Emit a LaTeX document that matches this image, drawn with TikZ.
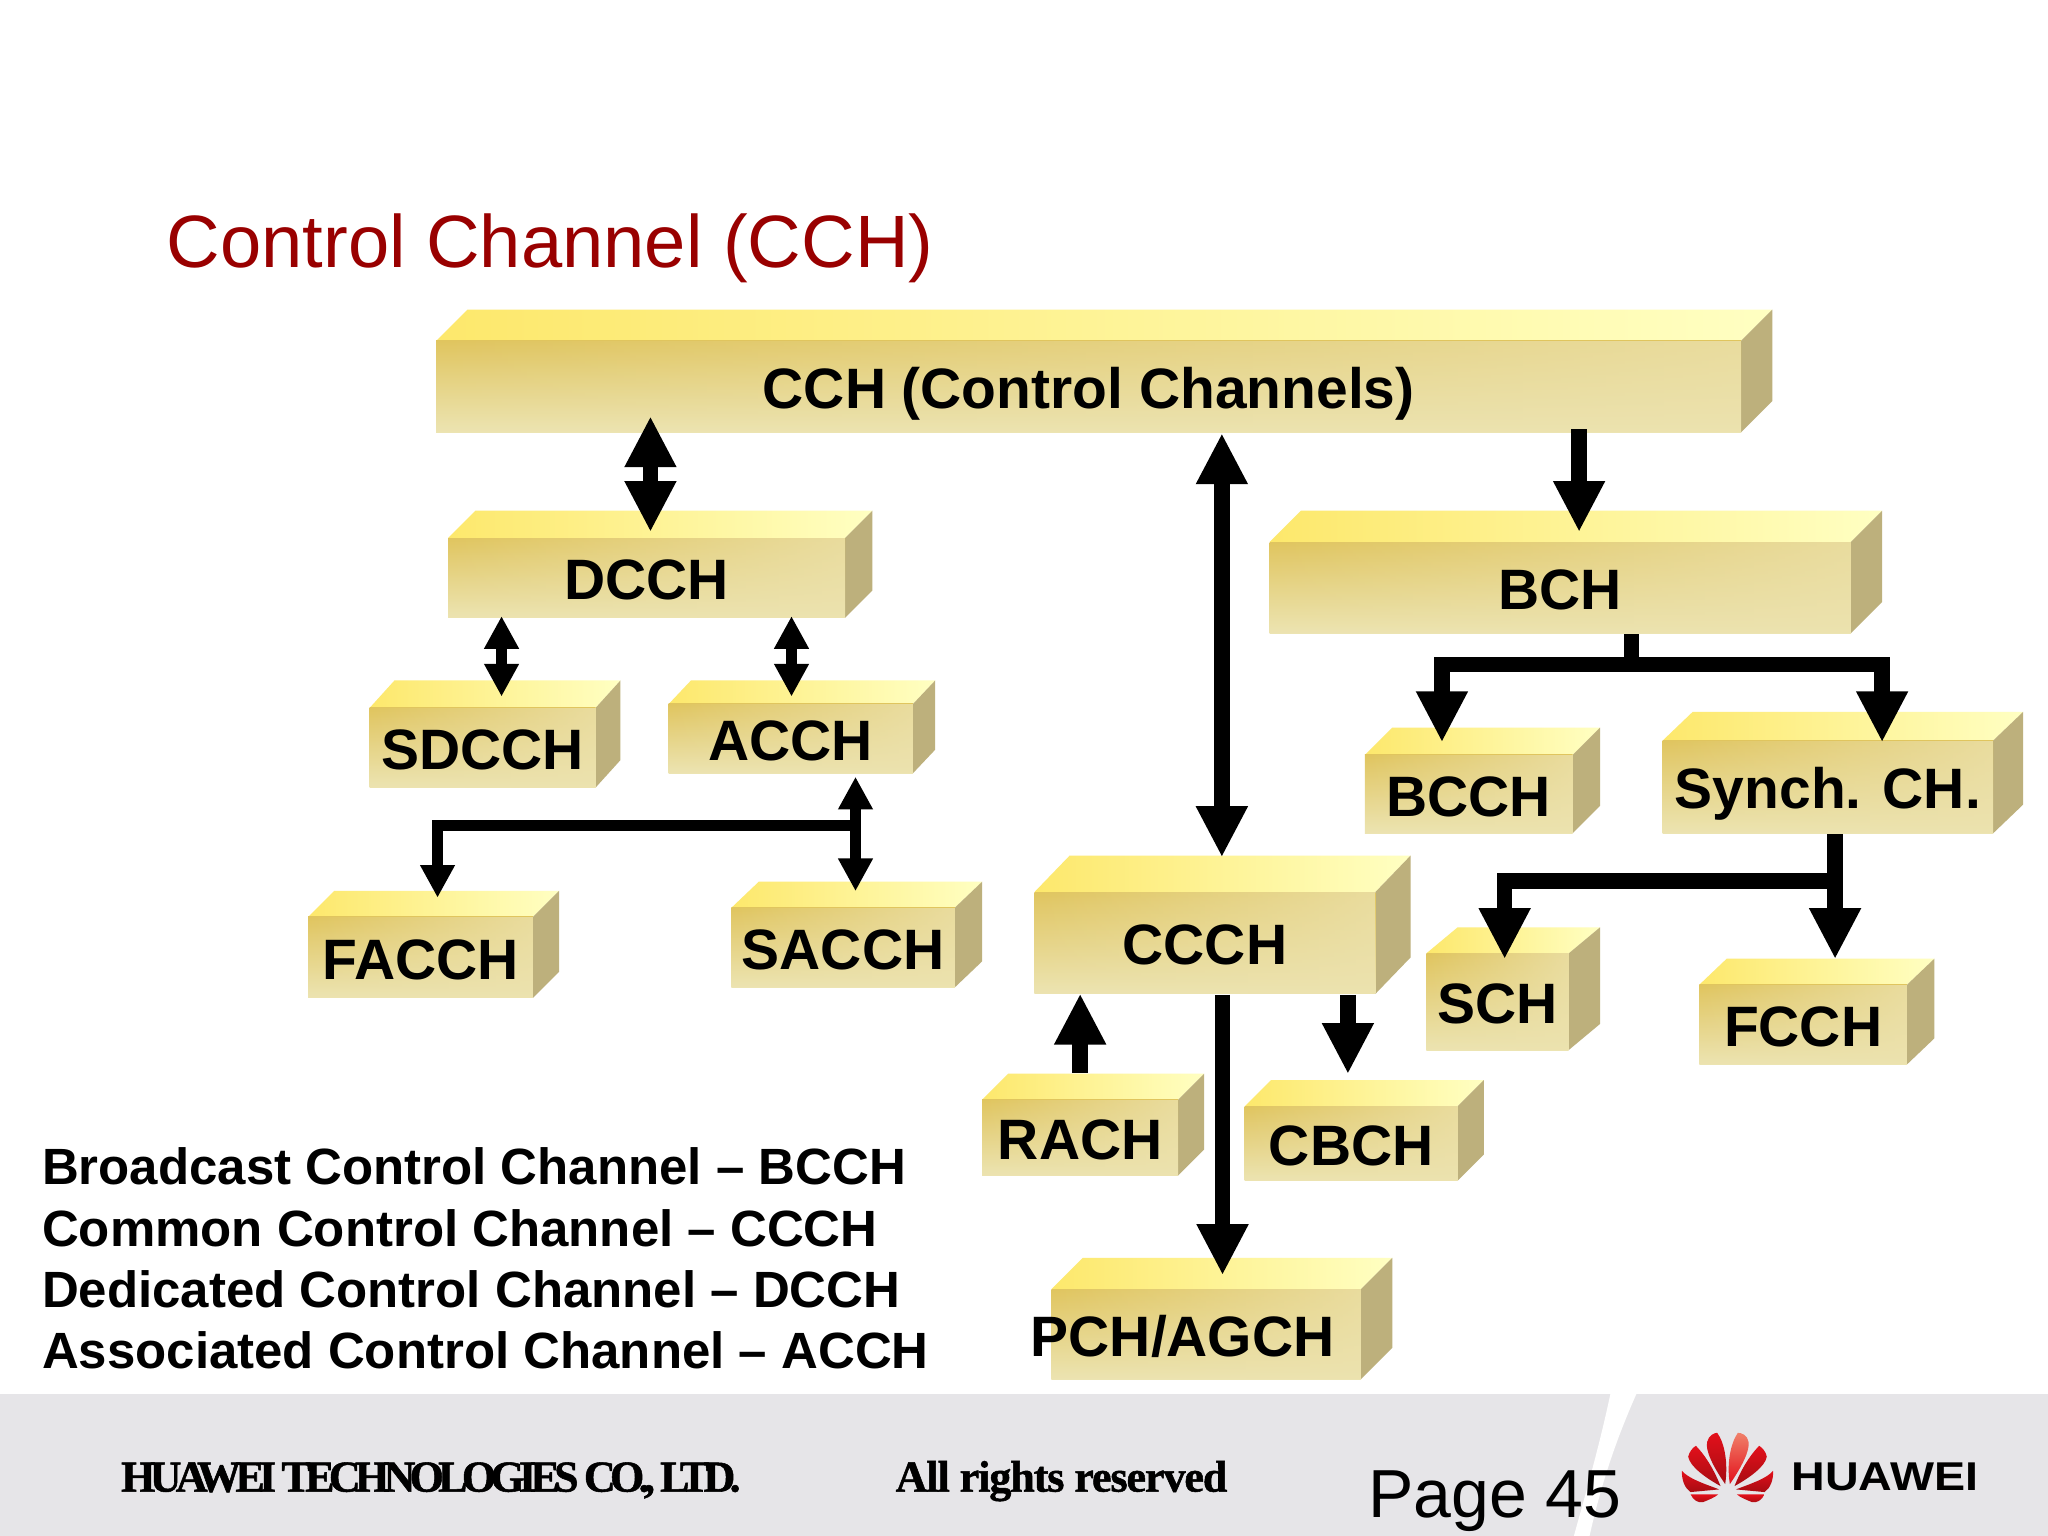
\documentclass[tikz,border=0pt]{standalone}
\usepackage{fontspec}
\setmainfont{Liberation Sans}
\newfontfamily\footfonta[LetterSpace=-13,FakeBold=1.2]{Liberation Serif}
\newfontfamily\footfontb[LetterSpace=-2.5,FakeBold=1.2]{Liberation Serif}
\usetikzlibrary{arrows.meta,calc,fadings}
\definecolor{topL}{HTML}{FDE86C}
\definecolor{topR}{HTML}{FFFFC2}
\definecolor{frontT}{HTML}{E0C55F}
\definecolor{frontB}{HTML}{ECE4B2}
\definecolor{frontH}{HTML}{ECE2AE}
\definecolor{sideC}{HTML}{BDB07C}
\definecolor{titleC}{HTML}{990000}
\definecolor{footC}{HTML}{E6E5E8}
\definecolor{logoR}{HTML}{E3101B}
\definecolor{logoD}{HTML}{A50C12}
\definecolor{logoP}{HTML}{F0806A}
\tikzfading[name=lightright,left color=transparent!100,right color=transparent!20]
\tikzset{
  boxlabel/.style={inner sep=0pt,font=\fontsize{12.4}{14}\bfseries\selectfont,text=black,
    text height=0.956em,text depth=0pt,align=center},
  legendtext/.style={anchor=base west,inner sep=0pt,font=\fontsize{11.1}{13}\bfseries\selectfont},
  footertexta/.style={anchor=base west,inner sep=0pt,font=\footfonta\fontsize{9.6}{11}\bfseries\selectfont},
  footertextb/.style={anchor=base west,inner sep=0pt,font=\footfontb\fontsize{9.6}{11}\bfseries\selectfont},
  bigarrow/.style={line width=0.12cm,>={Triangle[length=0.39cm,width=0.37cm]}},
  smallarrow/.style={line width=0.088cm,>={Triangle[length=0.25cm,width=0.25cm]}},
  petal/.style={top color=logoR,bottom color=logoD},
}
\newcommand{\chbox}[8]{% name x0 y0 x1 y1 backx backy text
  \pgfmathsetmacro{\cdx}{#6-#4}
  \pgfmathsetmacro{\cdy}{#3-#7}
  \shade[left color=topL,right color=topR] (#2,#3) -- (#2+\cdx,#7) -- (#6,#7) -- (#4,#3) -- cycle;
  \fill[sideC] (#4,#3) -- (#6,#7) -- (#6,#5-\cdy) -- (#4,#5) -- cycle;
  \shade[top color=frontT,bottom color=frontB] (#2,#3) rectangle (#4,#5);
  \fill[frontH,path fading=lightright] (#2,#3) rectangle (#4,#5);
  \node[boxlabel,minimum width={(#4-#2)*0.01cm},minimum height={(#5-#3)*0.01cm}] (#1) at ({(#2+#4)/2},{(#3+#5)/2}) {#8};
}
\begin{document}
\begin{tikzpicture}[x=0.01cm,y=-0.01cm]
\useasboundingbox (0,0) rectangle (1568,1176);
\fill[white] (0,0) rectangle (1568,1176);
% footer
\fill[footC] (0,1067) rectangle (1568,1176);
\fill[white] (1233,1067) -- (1253,1067) .. controls (1236,1105) and (1225,1140) .. (1217,1176) -- (1205,1176) .. controls (1215,1140) and (1225,1105) .. (1233,1067) -- cycle;
% title
\node[anchor=base west,inner sep=0pt,text=titleC,font=\fontsize{16.15}{19}\selectfont] (title) at (127,205) {Control Channel (CCH)};
% boxes
\chbox{cch}{334}{261}{1333}{331}{1357}{237}{CCH (Control Channels)}
\chbox{dcch}{343}{412}{647}{473}{668}{391}{DCCH}
\chbox{sdcch}{283}{542}{456}{603}{475}{521}{SDCCH}
\chbox{acch}{512}{539}{699}{592}{716}{521}{ACCH}
\chbox{facch}{236}{702}{408}{764}{428}{682}{FACCH}
\chbox{sacch}{560}{695}{731}{756}{752}{675}{SACCH}
\chbox{ccch}{792}{683}{1053}{761}{1080}{655}{CCCH}
\chbox{bch}{972}{415}{1417}{485}{1441}{391}{BCH}
\chbox{bcch}{1045}{578}{1204}{638}{1225}{557}{BCCH}
\chbox{synch}{1273}{567}{1526}{638}{1549}{545}{Synch. CH.}
\chbox{sch}{1092}{730}{1201}{804}{1225}{710}{SCH}
\chbox{fcch}{1301}{754}{1460}{815}{1481}{734}{FCCH}
\chbox{rach}{752}{842}{902}{900}{922}{822}{RACH}
\chbox{cbch}{953}{847}{1116}{904}{1136}{827}{CBCH}
\chbox{pch}{805}{987}{1042}{1056}{1066}{963}{\hspace*{-10.24pt}PCH/AGCH}
% connectors
\draw[bigarrow,<->] ($(cch.south -| 498,0)+(0,-13)$) -- ($(dcch.north -| 498,0)+(0,-4)$);
\draw[bigarrow,<->] ($(cch.south -| 935.5,0)+(0,0)$) -- ($(ccch.north -| 935.5,0)+(0,-26)$);
\draw[bigarrow,->] ($(cch.south -| 1209,0)+(0,-3)$) -- ($(bch.north -| 1209,0)+(0,-7)$);
\draw[smallarrow,<->] ($(dcch.south -| 384,0)+(0,-2)$) -- ($(sdcch.north -| 384,0)+(0,-8)$);
\draw[smallarrow,<->] ($(dcch.south -| 606,0)+(0,-2)$) -- ($(acch.north -| 606,0)+(0,-5)$);
\coordinate (acchjoin) at ($(acch.south -| 655,0)+(0,39.5)$);
\draw[smallarrow,<->] ($(acch.south -| 655,0)+(0,2)$) -- ($(sacch.north -| 655,0)+(0,-12)$);
\draw[smallarrow,->,line join=miter] (acchjoin) -- (acchjoin -| 335,0) -- ($(facch.north -| 335,0)+(0,-14)$);
\coordinate (bchjoin) at ($(bch.south -| 1249,0)+(0,23)$);
\draw[bigarrow] (bch.south -| 1249,0) -- (bchjoin);
\draw[bigarrow,->,line join=miter] (bchjoin) -- (bchjoin -| 1104,0) -- ($(bcch.north -| 1104,0)+(0,-9)$);
\draw[bigarrow,->,line join=miter] (bchjoin) -- (bchjoin -| 1441,0) -- ($(synch.north -| 1441,0)+(0,2)$);
\coordinate (synjoin) at ($(synch.south -| 1405,0)+(0,36)$);
\draw[bigarrow,->] (synch.south -| 1405,0) -- ($(fcch.north -| 1405,0)+(0,-19)$);
\draw[bigarrow,->,line join=miter] (synjoin) -- (synjoin -| 1152,0) -- ($(sch.north -| 1152,0)+(0,5)$);
\draw[bigarrow,->] ($(rach.north -| 827,0)+(0,-20)$) -- ($(ccch.south -| 827,0)+(0,-1)$);
\draw[bigarrow,->] (ccch.south -| 1032,0) -- ($(cbch.north -| 1032,0)+(0,-24)$);
\draw[bigarrow,->] (ccch.south -| 936,0) -- ($(pch.north -| 936,0)+(0,-10)$);
% legend
\node[legendtext] (leg1) at (31.5,907) {Broadcast Control Channel – BCCH};
\node[legendtext] (leg2) at (31.5,954) {Common Control Channel – CCCH};
\node[legendtext] (leg3) at (31.5,1001) {Dedicated Control Channel – DCCH};
\node[legendtext] (leg4) at (31.5,1048) {Associated Control Channel – ACCH};
% footer texts
\node[footertexta] (foot1) at (92,1142) {HUAWEI TECHNOLOGIES CO., LTD.};
\node[footertextb] (foot2) at (685,1142) {All rights reserved};
\node[anchor=base west,inner sep=0pt,font=\fontsize{14.8}{17}\selectfont] (page) at (1047,1162) {Page 45};
% logo
\begin{scope}[shift={(1225,1072)},x=0.002552cm,y=-0.002552cm]
  \shade[petal] (376,252) .. controls (340,200) and (315,150) .. (322,125) .. controls (326,105) and (345,98) .. (352,98) .. controls (375,130) and (385,190) .. (376,252) -- cycle;
  \shade[petal] (362,258) .. controls (320,235) and (270,200) .. (265,170) .. controls (268,155) and (278,143) .. (288,137) .. controls (320,170) and (345,215) .. (362,258) -- cycle;
  \shade[petal] (358,268) .. controls (310,250) and (265,235) .. (246,212) .. controls (245,240) and (255,265) .. (272,276) -- cycle;
  \shade[petal] (355,283) -- (272,283) .. controls (280,300) and (295,310) .. (310,306) .. controls (325,300) and (345,292) .. (355,283) -- cycle;
  \shade[top color=logoP,bottom color=logoR] (390,252) .. controls (380,190) and (392,130) .. (414,98) .. controls (425,98) and (443,105) .. (446,125) .. controls (451,150) and (426,200) .. (390,252) -- cycle;
  \shade[petal] (404,258) .. controls (421,215) and (446,170) .. (478,137) .. controls (488,143) and (498,155) .. (501,170) .. controls (496,200) and (446,235) .. (404,258) -- cycle;
  \shade[petal] (408,268) .. controls (456,250) and (501,235) .. (520,212) .. controls (521,240) and (511,265) .. (494,276) -- cycle;
  \shade[petal] (411,283) -- (494,283) .. controls (486,300) and (471,310) .. (456,306) .. controls (441,300) and (421,292) .. (411,283) -- cycle;
\end{scope}
\node[anchor=base west,inner sep=0pt,font=\fontsize{8.75}{10}\bfseries\selectfont] (logotext) at (1371,1141) {\scalebox{1.16}[1]{HUAWEI}};
\end{tikzpicture}
\end{document}
